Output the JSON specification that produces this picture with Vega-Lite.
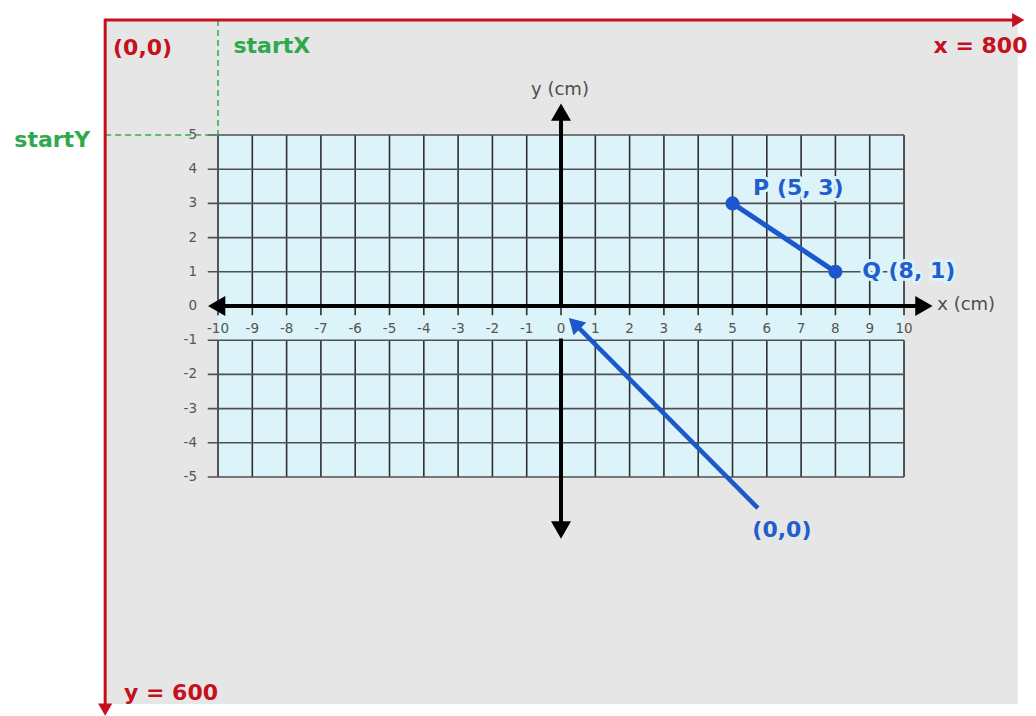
{
  "$schema": "https://vega.github.io/schema/vega-lite/v6.json",
  "width": 1036,
  "height": 716,
  "padding": 0,
  "autosize": {"type": "none"},
  "background": "white",
  "config": {"view": {"stroke": null}},
  "datasets": {
    "areas": [
      {"part": "canvas", "x": -13.29, "x2": 13.32, "y": 8.36, "y2": -11.64},
      {"part": "grid", "x": -10, "x2": 10, "y": 5, "y2": -5}
    ],
    "vgrid": [
      {"x": -10, "y": 5, "y2": -0.27}, {"x": -10, "y": -1, "y2": -5},
      {"x": -9, "y": 5, "y2": -0.27}, {"x": -9, "y": -1, "y2": -5},
      {"x": -8, "y": 5, "y2": -0.27}, {"x": -8, "y": -1, "y2": -5},
      {"x": -7, "y": 5, "y2": -0.27}, {"x": -7, "y": -1, "y2": -5},
      {"x": -6, "y": 5, "y2": -0.27}, {"x": -6, "y": -1, "y2": -5},
      {"x": -5, "y": 5, "y2": -0.27}, {"x": -5, "y": -1, "y2": -5},
      {"x": -4, "y": 5, "y2": -0.27}, {"x": -4, "y": -1, "y2": -5},
      {"x": -3, "y": 5, "y2": -0.27}, {"x": -3, "y": -1, "y2": -5},
      {"x": -2, "y": 5, "y2": -0.27}, {"x": -2, "y": -1, "y2": -5},
      {"x": -1, "y": 5, "y2": -0.27}, {"x": -1, "y": -1, "y2": -5},
      {"x": 0, "y": 5, "y2": -0.27}, {"x": 0, "y": -1, "y2": -5},
      {"x": 1, "y": 5, "y2": -0.27}, {"x": 1, "y": -1, "y2": -5},
      {"x": 2, "y": 5, "y2": -0.27}, {"x": 2, "y": -1, "y2": -5},
      {"x": 3, "y": 5, "y2": -0.27}, {"x": 3, "y": -1, "y2": -5},
      {"x": 4, "y": 5, "y2": -0.27}, {"x": 4, "y": -1, "y2": -5},
      {"x": 5, "y": 5, "y2": -0.27}, {"x": 5, "y": -1, "y2": -5},
      {"x": 6, "y": 5, "y2": -0.27}, {"x": 6, "y": -1, "y2": -5},
      {"x": 7, "y": 5, "y2": -0.27}, {"x": 7, "y": -1, "y2": -5},
      {"x": 8, "y": 5, "y2": -0.27}, {"x": 8, "y": -1, "y2": -5},
      {"x": 9, "y": 5, "y2": -0.27}, {"x": 9, "y": -1, "y2": -5},
      {"x": 10, "y": 5, "y2": -0.27}, {"x": 10, "y": -1, "y2": -5}
    ],
    "hgrid": [
      {"y": 5, "x": -10.3, "x2": 10}, {"y": 4, "x": -10.3, "x2": 10},
      {"y": 3, "x": -10.3, "x2": 10}, {"y": 2, "x": -10.3, "x2": 10},
      {"y": 1, "x": -10.3, "x2": 10}, {"y": -1, "x": -10.3, "x2": 10},
      {"y": -2, "x": -10.3, "x2": 10}, {"y": -3, "x": -10.3, "x2": 10},
      {"y": -4, "x": -10.3, "x2": 10}, {"y": -5, "x": -10.3, "x2": 10}
    ],
    "xticks": [
      {"x": -10, "y": -0.68, "label": "-10"}, {"x": -9, "y": -0.68, "label": "-9"},
      {"x": -8, "y": -0.68, "label": "-8"}, {"x": -7, "y": -0.68, "label": "-7"},
      {"x": -6, "y": -0.68, "label": "-6"}, {"x": -5, "y": -0.68, "label": "-5"},
      {"x": -4, "y": -0.68, "label": "-4"}, {"x": -3, "y": -0.68, "label": "-3"},
      {"x": -2, "y": -0.68, "label": "-2"}, {"x": -1, "y": -0.68, "label": "-1"},
      {"x": 0, "y": -0.68, "label": "0"}, {"x": 1, "y": -0.68, "label": "1"},
      {"x": 2, "y": -0.68, "label": "2"}, {"x": 3, "y": -0.68, "label": "3"},
      {"x": 4, "y": -0.68, "label": "4"}, {"x": 5, "y": -0.68, "label": "5"},
      {"x": 6, "y": -0.68, "label": "6"}, {"x": 7, "y": -0.68, "label": "7"},
      {"x": 8, "y": -0.68, "label": "8"}, {"x": 9, "y": -0.68, "label": "9"},
      {"x": 10, "y": -0.68, "label": "10"}
    ],
    "yticks": [
      {"x": -10.61, "y": 5, "label": "5"}, {"x": -10.61, "y": 4, "label": "4"},
      {"x": -10.61, "y": 3, "label": "3"}, {"x": -10.61, "y": 2, "label": "2"},
      {"x": -10.61, "y": 1, "label": "1"}, {"x": -10.61, "y": 0, "label": "0"},
      {"x": -10.61, "y": -1, "label": "-1"}, {"x": -10.61, "y": -2, "label": "-2"},
      {"x": -10.61, "y": -3, "label": "-3"}, {"x": -10.61, "y": -4, "label": "-4"},
      {"x": -10.61, "y": -5, "label": "-5"}
    ],
    "lines": [
      {"kind": "border", "x": -13.29, "y": 8.36, "x2": 13.3, "y2": 8.36},
      {"kind": "border", "x": -13.29, "y": 8.4, "x2": -13.29, "y2": -11.7},
      {"kind": "guide", "x": -10, "y": 8.36, "x2": -10, "y2": 5},
      {"kind": "guide", "x": -13.29, "y": 5, "x2": -10, "y2": 5},
      {"kind": "axis", "x": -10.0, "y": 0, "x2": 10.55, "y2": 0},
      {"kind": "axis", "x": 0, "y": 5.6, "x2": 0, "y2": 0},
      {"kind": "axis", "x": 0, "y": -0.95, "x2": 0, "y2": -6.5},
      {"kind": "segment", "x": 5, "y": 3, "x2": 8, "y2": 1},
      {"kind": "pointer", "x": 5.74, "y": -5.91, "x2": 0.41, "y2": -0.53}
    ],
    "heads": [
      {"kind": "border", "dir": "right", "x": 13.33, "y": 8.36},
      {"kind": "border", "dir": "down", "x": -13.29, "y": -11.8},
      {"kind": "axis", "dir": "left", "x": -10.04, "y": 0},
      {"kind": "axis", "dir": "right", "x": 10.58, "y": 0},
      {"kind": "axis", "dir": "up", "x": 0, "y": 5.67},
      {"kind": "axis", "dir": "down", "x": 0, "y": -6.55},
      {"kind": "pointer", "dir": "upleft", "x": 0.39, "y": -0.51}
    ],
    "points": [
      {"name": "P", "x": 5, "y": 3},
      {"name": "Q", "x": 8, "y": 1}
    ],
    "labels": [
      {"group": "redL", "text": "(0,0)", "x": -13.06, "y": 7.34},
      {"group": "redR", "text": "x = 800", "x": 13.6, "y": 7.4},
      {"group": "redL", "text": "y = 600", "x": -12.74, "y": -11.52},
      {"group": "greenL", "text": "startX", "x": -9.55, "y": 7.4},
      {"group": "greenR", "text": "startY", "x": -13.73, "y": 4.65},
      {"group": "blueL", "text": "P (5, 3)", "x": 5.6, "y": 3.25},
      {"group": "blueL", "text": "Q (8, 1)", "x": 8.78, "y": 0.82},
      {"group": "blueC", "text": "(0,0)", "x": 6.44, "y": -6.75},
      {"group": "grayC", "text": "y (cm)", "x": -0.03, "y": 6.32},
      {"group": "grayL", "text": "x (cm)", "x": 10.97, "y": 0.03}
    ]
  },
  "encoding": {
    "x": {"field": "x", "type": "quantitative", "scale": {"domain": [-16.356, 13.848], "nice": false, "zero": false}, "axis": null},
    "y": {"field": "y", "type": "quantitative", "scale": {"domain": [-11.988, 8.947], "nice": false, "zero": false}, "axis": null}
  },
  "layer": [
    {
      "data": {"name": "areas"},
      "transform": [{"filter": "datum.part == 'canvas'"}],
      "mark": {"type": "rect", "fill": "#e6e6e6"},
      "encoding": {"x2": {"field": "x2"}, "y2": {"field": "y2"}}
    },
    {
      "data": {"name": "areas"},
      "transform": [{"filter": "datum.part == 'grid'"}],
      "mark": {"type": "rect", "fill": "#dcf3fa"},
      "encoding": {"x2": {"field": "x2"}, "y2": {"field": "y2"}}
    },
    {
      "data": {"name": "vgrid"},
      "mark": {"type": "rule", "stroke": "#2e2e2e", "strokeWidth": 1.6},
      "encoding": {"y2": {"field": "y2"}}
    },
    {
      "data": {"name": "hgrid"},
      "mark": {"type": "rule", "stroke": "#505050", "strokeWidth": 1.6},
      "encoding": {"x2": {"field": "x2"}}
    },
    {
      "data": {"name": "lines"},
      "transform": [{"filter": "datum.kind == 'guide'"}],
      "mark": {"type": "rule", "stroke": "#2fae4e", "strokeWidth": 1.5, "strokeDash": [6, 4]},
      "encoding": {"x2": {"field": "x2"}, "y2": {"field": "y2"}}
    },
    {
      "data": {"name": "lines"},
      "transform": [{"filter": "datum.kind == 'border'"}],
      "mark": {"type": "rule", "stroke": "#c4111d", "strokeWidth": 3},
      "encoding": {"x2": {"field": "x2"}, "y2": {"field": "y2"}}
    },
    {
      "data": {"name": "heads"},
      "transform": [{"filter": "datum.kind == 'border'"}],
      "mark": {"type": "point", "filled": true, "fill": "#c4111d", "strokeWidth": 0, "size": 200, "opacity": 1},
      "encoding": {
        "shape": {"field": "dir", "type": "nominal", "scale": {"domain": ["left", "right", "up", "down"], "range": ["triangle-left", "triangle-right", "triangle-up", "triangle-down"]}, "legend": null}
      }
    },
    {
      "data": {"name": "lines"},
      "transform": [{"filter": "datum.kind == 'axis'"}],
      "mark": {"type": "rule", "stroke": "#000000", "strokeWidth": 4},
      "encoding": {"x2": {"field": "x2"}, "y2": {"field": "y2"}}
    },
    {
      "data": {"name": "heads"},
      "transform": [{"filter": "datum.kind == 'axis'"}],
      "mark": {"type": "point", "filled": true, "fill": "#000000", "strokeWidth": 0, "size": 400, "opacity": 1},
      "encoding": {
        "shape": {"field": "dir", "type": "nominal", "scale": {"domain": ["left", "right", "up", "down"], "range": ["triangle-left", "triangle-right", "triangle-up", "triangle-down"]}, "legend": null}
      }
    },
    {
      "data": {"name": "xticks"},
      "mark": {"type": "text", "font": "DejaVu Sans", "fontSize": 13.5, "fill": "#555555", "align": "center", "baseline": "middle"},
      "encoding": {"text": {"field": "label"}}
    },
    {
      "data": {"name": "yticks"},
      "mark": {"type": "text", "font": "DejaVu Sans", "fontSize": 13.5, "fill": "#555555", "align": "right", "baseline": "middle"},
      "encoding": {"text": {"field": "label"}}
    },
    {
      "data": {"name": "lines"},
      "transform": [{"filter": "datum.kind == 'segment'"}],
      "mark": {"type": "rule", "stroke": "#1c58cc", "strokeWidth": 5, "strokeCap": "round"},
      "encoding": {"x2": {"field": "x2"}, "y2": {"field": "y2"}}
    },
    {
      "data": {"name": "lines"},
      "transform": [{"filter": "datum.kind == 'pointer'"}],
      "mark": {"type": "rule", "stroke": "#1c58cc", "strokeWidth": 4.5},
      "encoding": {"x2": {"field": "x2"}, "y2": {"field": "y2"}}
    },
    {
      "data": {"name": "heads"},
      "transform": [{"filter": "datum.kind == 'pointer'"}],
      "mark": {"type": "point", "shape": "triangle-up", "angle": -45, "filled": true, "fill": "#1c58cc", "strokeWidth": 0, "size": 320, "opacity": 1}
    },
    {
      "data": {"name": "points"},
      "mark": {"type": "circle", "fill": "#1c58cc", "size": 200, "opacity": 1}
    },
    {
      "data": {"name": "labels"},
      "transform": [{"filter": "datum.group == 'blueL'"}],
      "mark": {"type": "text", "font": "DejaVu Sans", "fontWeight": "bold", "fontSize": 22, "align": "left", "baseline": "alphabetic", "fill": "#dcf3fa", "stroke": "#dcf3fa", "strokeWidth": 6, "strokeJoin": "round"},
      "encoding": {"text": {"field": "text"}}
    },
    {
      "data": {"name": "labels"},
      "transform": [{"filter": "datum.group == 'blueL'"}],
      "mark": {"type": "text", "font": "DejaVu Sans", "fontWeight": "bold", "fontSize": 22, "align": "left", "baseline": "alphabetic", "fill": "#1f5ecc"},
      "encoding": {"text": {"field": "text"}}
    },
    {
      "data": {"name": "labels"},
      "transform": [{"filter": "datum.group == 'blueC'"}],
      "mark": {"type": "text", "font": "DejaVu Sans", "fontWeight": "bold", "fontSize": 22, "align": "center", "baseline": "alphabetic", "fill": "#1f5ecc"},
      "encoding": {"text": {"field": "text"}}
    },
    {
      "data": {"name": "labels"},
      "transform": [{"filter": "datum.group == 'redL'"}],
      "mark": {"type": "text", "font": "DejaVu Sans", "fontWeight": "bold", "fontSize": 22, "align": "left", "baseline": "alphabetic", "fill": "#c4111d"},
      "encoding": {"text": {"field": "text"}}
    },
    {
      "data": {"name": "labels"},
      "transform": [{"filter": "datum.group == 'redR'"}],
      "mark": {"type": "text", "font": "DejaVu Sans", "fontWeight": "bold", "fontSize": 22, "align": "right", "baseline": "alphabetic", "fill": "#c4111d"},
      "encoding": {"text": {"field": "text"}}
    },
    {
      "data": {"name": "labels"},
      "transform": [{"filter": "datum.group == 'greenL'"}],
      "mark": {"type": "text", "font": "DejaVu Sans", "fontWeight": "bold", "fontSize": 22, "align": "left", "baseline": "alphabetic", "fill": "#2fa84e"},
      "encoding": {"text": {"field": "text"}}
    },
    {
      "data": {"name": "labels"},
      "transform": [{"filter": "datum.group == 'greenR'"}],
      "mark": {"type": "text", "font": "DejaVu Sans", "fontWeight": "bold", "fontSize": 22, "align": "right", "baseline": "alphabetic", "fill": "#2fa84e"},
      "encoding": {"text": {"field": "text"}}
    },
    {
      "data": {"name": "labels"},
      "transform": [{"filter": "datum.group == 'grayC'"}],
      "mark": {"type": "text", "font": "DejaVu Sans", "fontSize": 18, "align": "center", "baseline": "middle", "fill": "#4d4d4d"},
      "encoding": {"text": {"field": "text"}}
    },
    {
      "data": {"name": "labels"},
      "transform": [{"filter": "datum.group == 'grayL'"}],
      "mark": {"type": "text", "font": "DejaVu Sans", "fontSize": 18, "align": "left", "baseline": "middle", "fill": "#4d4d4d"},
      "encoding": {"text": {"field": "text"}}
    }
  ]
}
